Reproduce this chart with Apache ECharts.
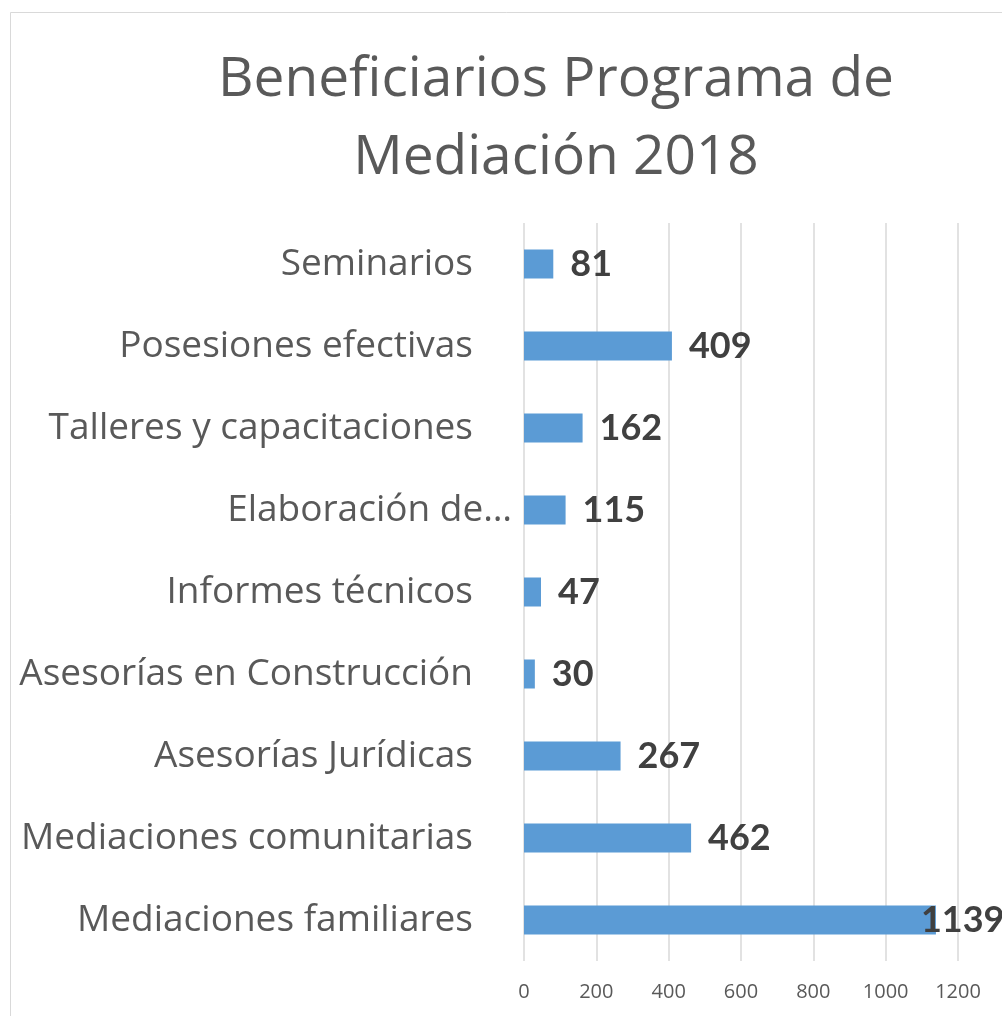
<!DOCTYPE html>
<html>
<head>
<meta charset="utf-8">
<script src="https://cdn.jsdelivr.net/npm/echarts@6/dist/echarts.min.js"></script>
<style>
  html, body { margin: 0; padding: 0; background: #ffffff; }
  #chart { width: 1002px; height: 1016px; }
</style>
</head>
<body>
<div id="chart"></div>
<script>
// Categories listed bottom-to-top (category axis starts at the bottom)
const categories = [
  'Mediaciones familiares',
  'Mediaciones comunitarias',
  'Asesorías Jurídicas',
  'Asesorías en Construcción',
  'Informes técnicos',
  'Elaboración de…',
  'Talleres y capacitaciones',
  'Posesiones efectivas',
  'Seminarios'
];
const beneficiarios = [1139, 462, 267, 30, 47, 115, 162, 409, 81];
const titleText = 'Beneficiarios Programa de\nMediación 2018';
const axisMin = 0, axisMax = 1200, axisStep = 200;

// the shortened category name sits closer to its bar than the others
const shortenedName = 'Elaboración de…';

const TEXT_FONT = '"Open Sans", Lato, sans-serif';
const LABEL_FONT = 'Lato, "Open Sans", sans-serif';

const chart = echarts.init(document.getElementById('chart'), null, { renderer: 'canvas' });

const seriesData = beneficiarios.map(v => {
  const item = { value: v };
  // the longest bar's label is pulled back over the bar end so it stays in view
  if (v === Math.max(...beneficiarios)) {
    item.label = { offset: [-32, 0] };
  }
  return item;
});

const categoryLabelStyle = {
  fontFamily: TEXT_FONT,
  fontSize: 37,
  color: '#595959'
};

chart.setOption({
  backgroundColor: '#ffffff',
  animation: false,
  title: {
    text: titleText,
    left: 551,
    top: 36,
    textAlign: 'center',
    textStyle: {
      fontFamily: TEXT_FONT,
      fontSize: 55,
      fontWeight: 'normal',
      color: '#595959',
      lineHeight: 78
    }
  },
  graphic: [{
    type: 'rect',
    shape: { x: 10.5, y: 12.5, width: 1200, height: 1200 },
    style: { fill: 'none', stroke: '#d9d9d9', lineWidth: 1 },
    silent: true
  }],
  grid: { left: 524, right: 44, top: 223, bottom: 55, containLabel: false },
  xAxis: {
    type: 'value',
    min: axisMin,
    max: axisMax,
    interval: axisStep,
    axisLine: { show: false },
    axisTick: { show: false },
    axisLabel: {
      fontFamily: TEXT_FONT,
      fontSize: 20,
      color: '#595959',
      margin: 21,
      formatter: v => String(v)
    },
    splitLine: { show: true, lineStyle: { color: '#d9d9d9', width: 1.5 } }
  },
  yAxis: [{
    type: 'category',
    data: categories,
    position: 'left',
    axisLine: { show: false },
    axisTick: { show: false },
    axisLabel: Object.assign({
      margin: 51,
      formatter: name => (name === shortenedName ? '' : name)
    }, categoryLabelStyle)
  }, {
    type: 'category',
    data: categories,
    position: 'left',
    axisLine: { show: false },
    axisTick: { show: false },
    splitLine: { show: false },
    axisLabel: Object.assign({
      margin: 12,
      formatter: name => (name === shortenedName ? name : '')
    }, categoryLabelStyle)
  }],
  series: [{
    type: 'bar',
    data: seriesData,
    barWidth: 29,
    itemStyle: { color: '#5b9bd5' },
    label: {
      show: true,
      position: 'right',
      distance: 17,
      fontFamily: LABEL_FONT,
      fontSize: 36,
      fontWeight: 'bold',
      color: '#404040'
    }
  }]
});
</script>
</body>
</html>
